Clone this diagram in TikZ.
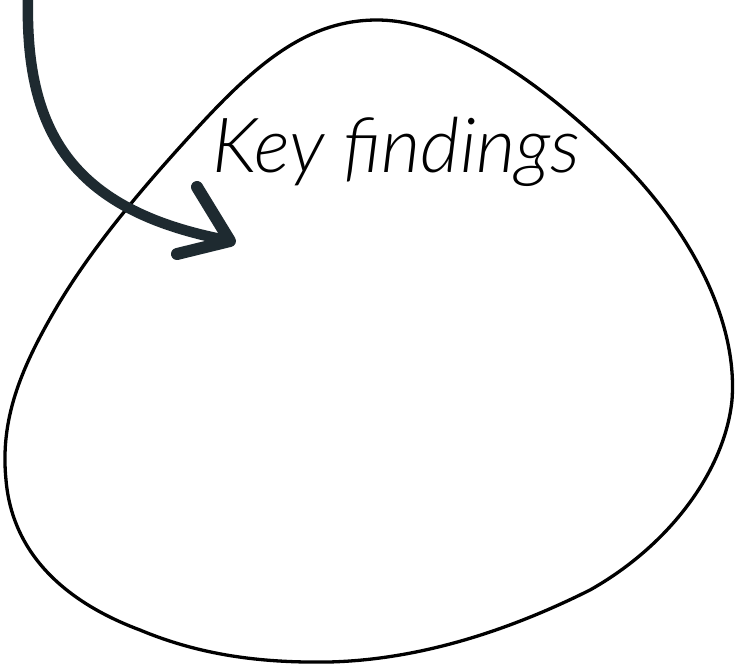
\documentclass[tikz,border=0pt]{standalone}
\usepackage{fontspec}
\newfontfamily\handfont{Lato Light}
\definecolor{arrowdark}{RGB}{30,42,48}
\begin{document}
\begin{tikzpicture}[x=1pt,y=-1pt,
  blobline/.style={draw=black,line width=3.3pt},
  bigarrow/.style={draw=arrowdark,line width=11pt,line join=round},
  label/.style={font=\handfont\itshape,text=black,inner sep=0pt}]
\useasboundingbox (0,0) rectangle (735,665);
\fill[white] (0,0) rectangle (735,665);
% blob
\draw[blobline] (377,20) .. controls (310,20) and (260,60) .. (200,125)
  .. controls (140,190) and (90,250) .. (55,310)
  .. controls (20,370) and (0,420) .. (6,480)
  .. controls (12,550) and (60,600) .. (140,630)
  .. controls (200,655) and (260,663) .. (328,662)
  .. controls (420,660) and (510,630) .. (590,590)
  .. controls (670,545) and (725,470) .. (732,400)
  .. controls (738,320) and (690,230) .. (620,160)
  .. controls (540,80) and (450,20) .. cycle;
% text
\node[label,anchor=base west] (kf) at (212,172) {\resizebox{368pt}{!}{Key findings}};
% arrow
\coordinate (astart) at (28,-2);
\coordinate (aend) at (226,240);
\coordinate (barbA) at (197,187);
\coordinate (tip) at (230,241);
\coordinate (barbB) at (177,254);
\draw[bigarrow,line width=10.5pt,line cap=butt] (astart) .. controls (25,130) and (70,210) .. (aend);
\draw[bigarrow,line width=12pt,line cap=round] (barbA) -- (tip) -- (barbB);
\end{tikzpicture}
\end{document}
